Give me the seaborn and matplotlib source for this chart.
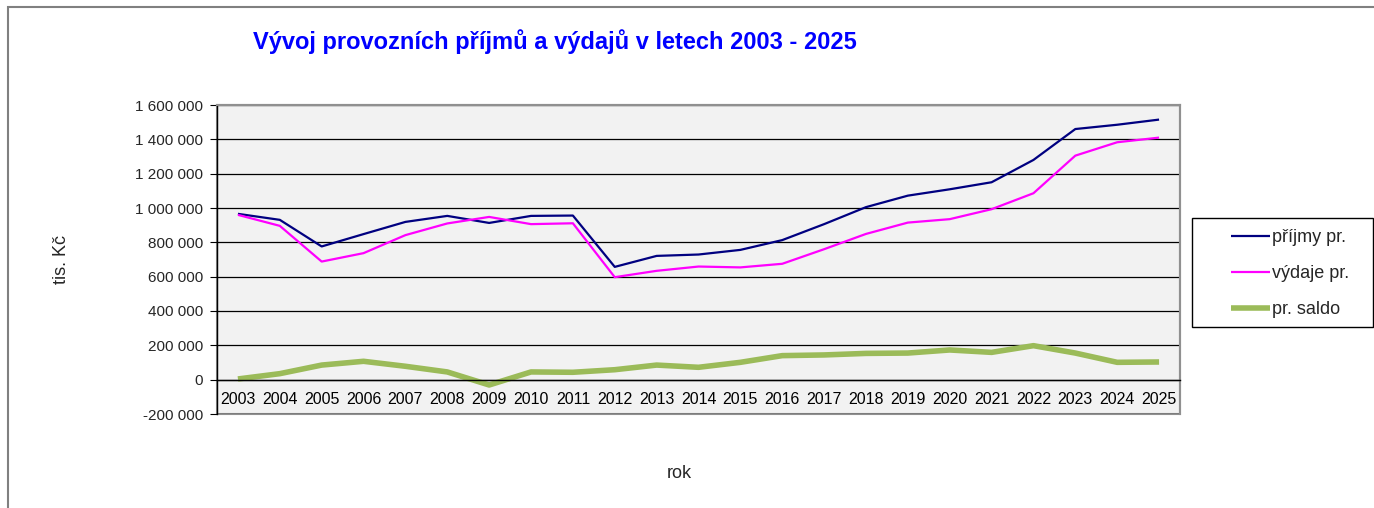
import matplotlib
matplotlib.use("Agg")
import matplotlib.pyplot as plt
import matplotlib.ticker as mticker
from matplotlib.patches import Rectangle
import numpy as np
import pandas as pd
import seaborn as sns

years = [str(y) for y in range(2003, 2026)]
prijmy = [966000, 931000, 776000, 848000, 919000, 954000, 913000, 954000, 956000,
          657000, 721000, 729000, 756000, 813000, 906000, 1005000, 1072000, 1109000,
          1150000, 1280000, 1460000, 1485000, 1515000]
vydaje = [960000, 896000, 688000, 737000, 842000, 910000, 948000, 906000, 911000,
          597000, 634000, 659000, 654000, 675000, 760000, 849000, 915000, 935000,
          993000, 1086000, 1305000, 1383000, 1410000]
saldo = [4000, 35000, 85000, 107000, 78000, 45000, -31000, 45000, 43000,
         58000, 85000, 72000, 101000, 140000, 144000, 153000, 155000, 173000,
         159000, 198000, 155000, 101000, 103000]
series_names = ["příjmy pr.", "výdaje pr.", "pr. saldo"]
colors = ["#000080", "#FF00FF", "#9BBB59"]
widths = [1.6, 1.6, 4.0]

sns.set_style("white")
plt.rcParams["font.family"] = ["Liberation Sans", "DejaVu Sans"]

W, H = 1374, 508
fig = plt.figure(figsize=(W / 100, H / 100), dpi=100)
ax = fig.add_axes([217 / W, 1 - 414 / H, (1180 - 217) / W, (414 - 105) / H])
ax.set_facecolor("#F2F2F2")

idx = np.arange(len(years))
for name, vals, c, lw in zip(series_names, [prijmy, vydaje, saldo], colors, widths):
    df = pd.DataFrame({"x": idx, "y": vals})
    sns.lineplot(data=df, x="x", y="y", ax=ax, color=c, linewidth=lw, label=name,
                 solid_capstyle="butt")

ax.set_xlim(-0.5, len(years) - 0.5)
ax.set_ylim(-200000, 1600000)
ax.yaxis.set_major_locator(mticker.MultipleLocator(200000))
ax.yaxis.set_major_formatter(mticker.FuncFormatter(
    lambda v, p: f"{int(round(v)):,}".replace(",", " ")))
ax.grid(axis="y", color="#000000", linewidth=0.9)
ax.set_axisbelow(True)

ax.set_xticks(idx)
ax.set_xticklabels(years)
ax.set_xticks(np.arange(-0.5, len(years)), minor=True)
ax.tick_params(axis="x", which="major", length=0, labelsize=11.5, pad=9, colors="#000000")
ax.tick_params(axis="x", which="minor", length=5, direction="out", color="#000000")
ax.tick_params(axis="y", length=5, direction="out", labelsize=11, pad=5,
               color="#000000", left=True)

ax.spines["bottom"].set_position(("data", 0))
ax.spines["bottom"].set_color("#000000")
ax.spines["bottom"].set_linewidth(1.0)
ax.spines["left"].set_color("#000000")
ax.spines["left"].set_linewidth(1.0)
for s in ["top", "right"]:
    ax.spines[s].set_color("#909090")
    ax.spines[s].set_linewidth(1.5)
# bottom border of plot area
ax.add_patch(Rectangle((0, 0), 1, 1, transform=ax.transAxes, fill=False,
                       edgecolor="#909090", linewidth=1.5, zorder=0.5, clip_on=False))
ax.set_xlabel("")
ax.set_ylabel("")

leg = ax.legend(loc="upper left", bbox_to_anchor=(1231 / W, 1 - 229 / H),
                bbox_transform=fig.transFigure, frameon=False, fontsize=13,
                borderpad=0, borderaxespad=0, handlelength=2.15,
                handletextpad=0.1, labelspacing=1.05)
fig.add_artist(Rectangle((1192 / W, 1 - 327 / H), (1373 - 1192) / W, (327 - 218) / H,
                         transform=fig.transFigure, fill=False, edgecolor="#000000",
                         linewidth=1.0))

fig.text(555 / W, 1 - 42 / H, "Vývoj provozních příjmů a výdajů v letech 2003 - 2025",
         ha="center", va="center", fontsize=17, fontweight="bold", color="#0000FF")
fig.text(62 / W, 1 - 259 / H, "tis. Kč", ha="center", va="center", rotation=90, fontsize=13)
fig.text(679 / W, 1 - 473 / H, "rok", ha="center", va="center", fontsize=13)

fig.add_artist(Rectangle((8 / W, -0.1), 1.2, 1.1 - 7 / H, transform=fig.transFigure,
                         fill=False, edgecolor="#808080", linewidth=1.5))

fig.savefig("out.png", dpi=100)
